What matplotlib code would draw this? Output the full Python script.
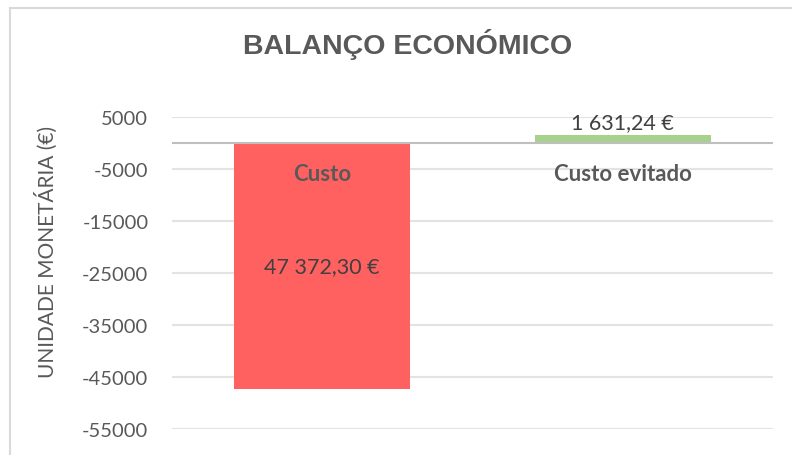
import matplotlib
matplotlib.use("Agg")
import matplotlib.pyplot as plt
from matplotlib.lines import Line2D

categories = ["Custo", "Custo evitado"]
values = [-47372.30, 1631.24]
value_labels = ["47 372,30 €", "1 631,24 €"]
bar_colors = ["#FF6161", "#A9D18E"]
yticks = [5000, -5000, -15000, -25000, -35000, -45000, -55000]

TEXT = "#595959"
W, H = 792, 456

plt.rcParams["font.family"] = ["Lato", "DejaVu Sans"]

fig = plt.figure(figsize=(W / 100, H / 100), dpi=100)
ax = fig.add_axes([172 / W, 1 - 430 / H, (773 - 172) / W, (430 - 118) / H])

x = list(range(len(categories)))
ax.bar(x, values, width=0.585, color=bar_colors, zorder=2)
ax.set_xlim(-0.5, len(categories) - 0.5)
ax.set_ylim(-55000, 5000)
ax.set_yticks(yticks)
ax.set_yticklabels([str(t) for t in yticks])
ax.tick_params(axis="y", length=0, labelsize=14.5, labelcolor=TEXT, pad=17)
ax.set_xticks([])
for s in ax.spines.values():
    s.set_visible(False)
ax.grid(axis="y", color="#E3E3E3", linewidth=1.5, zorder=0)
ax.axhline(0, color="#BFBFBF", linewidth=1.5, zorder=3)

# category names sit just under the zero line
for i, name in enumerate(categories):
    ax.annotate(name, (i, 0), xytext=(0, -22), textcoords="offset points",
                ha="center", va="center", fontsize=16, fontweight="bold",
                color=TEXT, zorder=4)

# value labels
for i, (v, lab) in enumerate(zip(values, value_labels)):
    if v < 0:
        ax.text(i, v / 2, lab, ha="center", va="center", fontsize=15.5,
                color="#404040", zorder=4)
    else:
        ax.annotate(lab, (i, v), xytext=(0, 1.5), textcoords="offset points",
                    ha="center", va="bottom", fontsize=15.5, color="#404040",
                    zorder=4)

ax.set_ylabel("UNIDADE MONETÁRIA (€)", fontsize=15, color=TEXT)
ax.yaxis.set_label_coords(-(172 - 58) / (773 - 172), (430 - 252) / (430 - 118))

fig.text(408 / W, 1 - 45 / H, "BALANÇO ECONÓMICO", ha="center", va="center",
         fontsize=20.5, fontweight="bold", color=TEXT,
         family=["Liberation Sans", "DejaVu Sans"])

# outer chart border (left and top visible)
fig.add_artist(Line2D([10 / W, 10 / W], [0, 1 - 9 / H], transform=fig.transFigure,
                      color="#D9D9D9", linewidth=1.5))
fig.add_artist(Line2D([10 / W, 1], [1 - 9 / H, 1 - 9 / H], transform=fig.transFigure,
                      color="#D9D9D9", linewidth=1.5))

fig.savefig("out.png", dpi=100)
